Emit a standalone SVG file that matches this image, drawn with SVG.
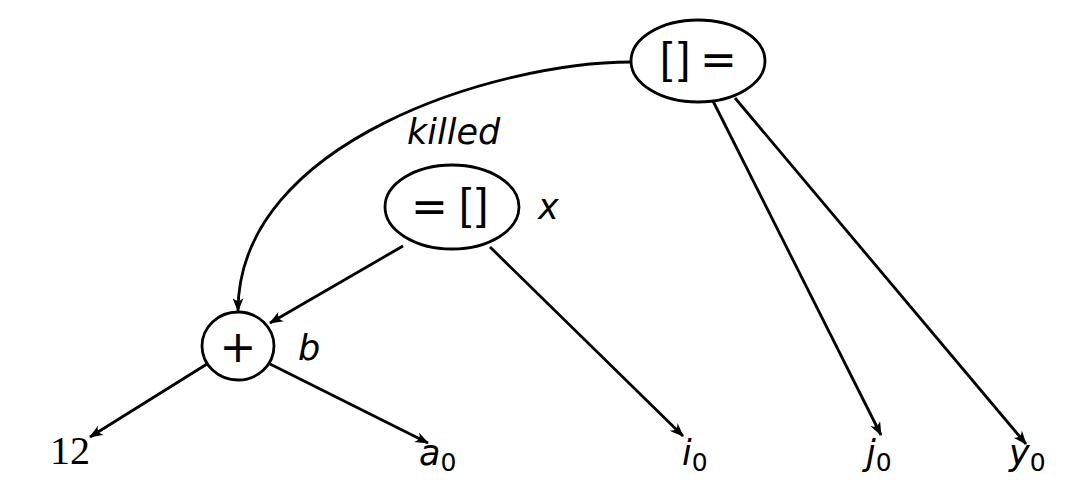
<svg xmlns="http://www.w3.org/2000/svg" width="1066" height="486" viewBox="0 0 1066 486">
  <style>
    .node { fill: #fff; stroke: #000; stroke-width: 2.8; }
    .op { font-family: "DejaVu Sans", sans-serif; font-size: 44px; fill: #000; }
    .br { font-family: "Liberation Sans", sans-serif; font-size: 44px; fill: #000; }
    .var { font-family: "DejaVu Sans", sans-serif; font-style: italic; font-size: 35px; fill: #000; }
    .num { font-family: "Liberation Serif", serif; font-size: 40px; fill: #000; }
    .sub { font-style: normal; font-size: 25px; }
    .edge { fill: none; stroke: #000; stroke-width: 2.8; marker-end: url(#arrow); }
  </style>
  <defs>
    <marker id="arrow" viewBox="0 0 14 11" refX="13" refY="5.5" markerWidth="14" markerHeight="11" markerUnits="userSpaceOnUse" orient="auto">
      <path d="M0,0 Q6,5.5 0,11 L14,5.5 Z" fill="#000"/>
    </marker>
  </defs>

  <g id="connectors">
    <path class="edge" d="M631,62 C500,62 238,140 238,311"/>
    <line class="edge" x1="403" y1="246" x2="270" y2="323"/>
    <line class="edge" x1="490" y1="247" x2="683" y2="436"/>
    <line class="edge" x1="207" y1="364" x2="90" y2="437"/>
    <line class="edge" x1="270" y1="364" x2="428" y2="443"/>
    <line class="edge" x1="713" y1="101" x2="881" y2="435"/>
    <line class="edge" x1="735" y1="98" x2="1026" y2="444"/>
  </g>

  <g id="store">
    <ellipse class="node" cx="698" cy="61" rx="67" ry="41"/>
    <text class="br" x="660" y="73">[</text>
    <text class="br" x="678" y="73">]</text>
    <text class="op" x="700" y="75">=</text>
  </g>

  <g id="load">
    <ellipse class="node" cx="452" cy="207" rx="67" ry="42"/>
    <text class="op" x="411" y="222">=</text>
    <text class="br" x="459" y="219">[</text>
    <text class="br" x="476" y="219">]</text>
    <text class="var" x="538" y="219">x</text>
  </g>

  <g id="plus">
    <ellipse class="node" cx="238" cy="346" rx="36" ry="34"/>
    <text class="op" x="238" y="362" text-anchor="middle">+</text>
    <text class="var" x="298" y="360">b</text>
  </g>

  <g id="kill-label">
    <text class="var" x="407" y="144">killed</text>
  </g>

  <g id="leaf-12"><text class="num" x="50" y="464">12</text></g>
  <g id="leaf-a0"><text class="var" x="419" y="465">a<tspan class="sub" dy="6">0</tspan></text></g>
  <g id="leaf-i0"><text class="var" x="682" y="465">i<tspan class="sub" dy="6">0</tspan></text></g>
  <g id="leaf-j0"><text class="var" x="866" y="465">j<tspan class="sub" dy="6">0</tspan></text></g>
  <g id="leaf-y0"><text class="var" x="1009" y="465">y<tspan class="sub" dy="6">0</tspan></text></g>
</svg>
